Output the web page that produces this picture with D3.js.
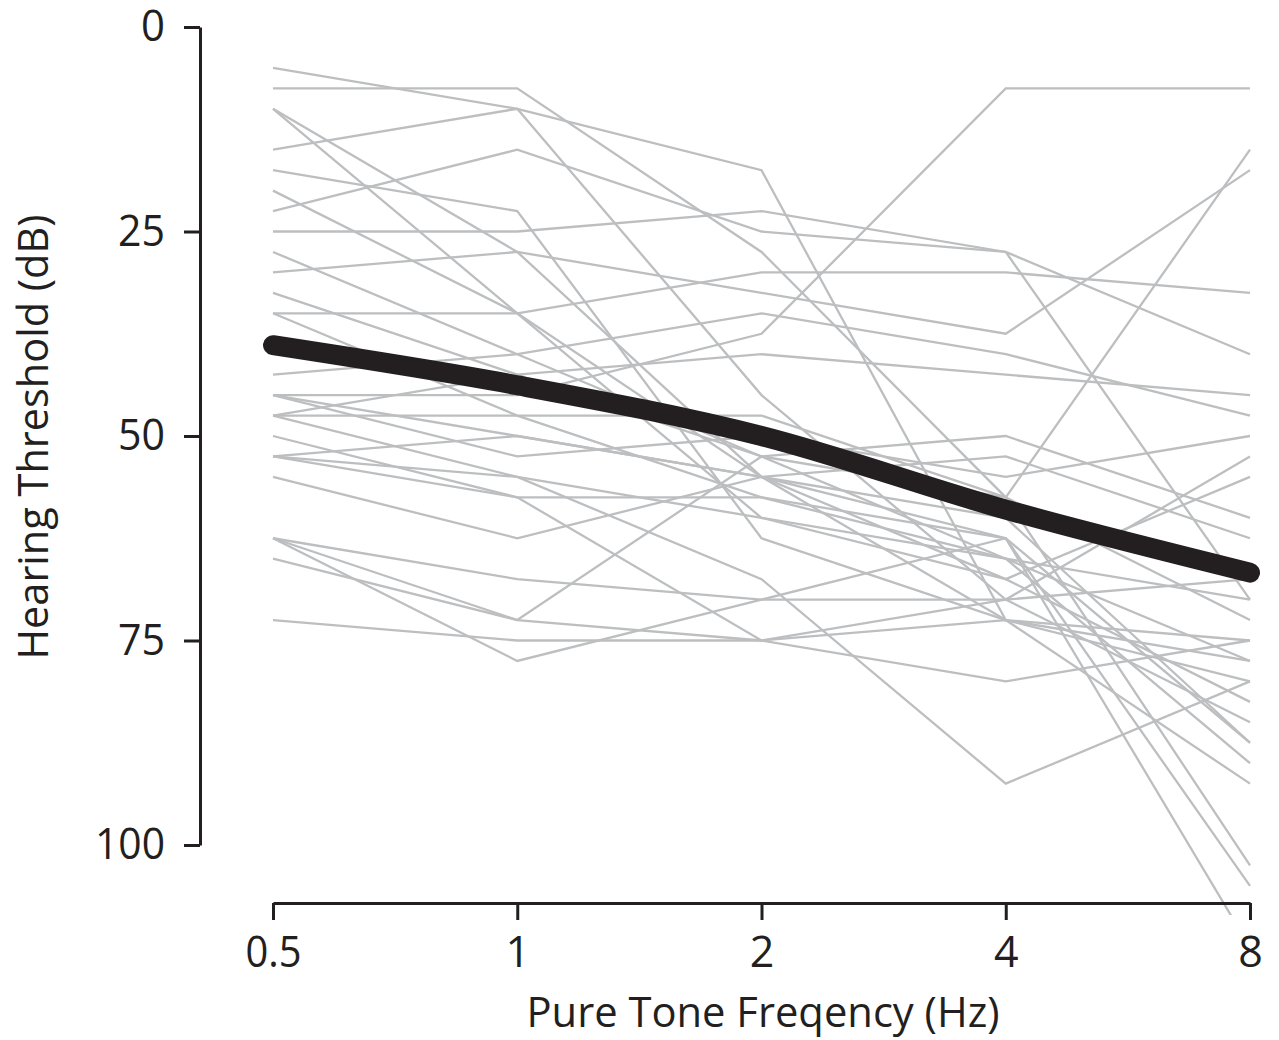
<!DOCTYPE html>
<html><head><meta charset="utf-8">
<script src="https://cdn.jsdelivr.net/npm/d3@7"></script>
<style>body{margin:0;background:#fff}svg{display:block}</style>
</head><body>
<svg id="chart" width="1279" height="1040"></svg>
<script>
// ---- data ----
const frequencies = [0.5, 1, 2, 4, 8];
const freqLabels = ["0.5", "1", "2", "4", "8"];
const yTicks = [0, 25, 50, 75, 100];
const meanThreshold = [38.9, 43.8, 50, 59, 66.7];
const subject01 = [5, 10, 17.5, 72.5, 80];
const subject02 = [7.5, 7.5, 27.5, 57.5, 102.5];
const subject03 = [10, 27.5, 55, 60, 87.5];
const subject04 = [10, 35, 60, 65, 90];
const subject05 = [15, 10, 45, 70, 85];
const subject06 = [17.5, 22.5, 62.5, 72.5, 75];
const subject07 = [20, 35, 55, 62.5, 112.5];
const subject08 = [22.5, 15, 25, 27.5, 40];
const subject09 = [25, 25, 22.5, 27.5, 70];
const subject10 = [27.5, 40, 52.5, 57.5, 72.5];
const subject11 = [30, 27.5, 32.5, 37.5, 17.5];
const subject12 = [32.5, 42.5, 40, 42.5, 45];
const subject13 = [35, 35, 30, 30, 32.5];
const subject14 = [35, 47.5, 57.5, 65, 77.5];
const subject15 = [42.5, 40, 35, 40, 47.5];
const subject16 = [45, 45, 37.5, 7.5, 7.5];
const subject17 = [45, 50, 55, 52.5, 62.5];
const subject18 = [45, 52.5, 50, 55, 50];
const subject19 = [47.5, 47.5, 47.5, 57.5, 15];
const subject20 = [47.5, 55, 60, 67.5, 82.5];
const subject21 = [47.5, 42.5, 52.5, 50, 60];
const subject22 = [50, 57.5, 57.5, 62.5, 105];
const subject23 = [52.5, 50, 55, 72.5, 92.5];
const subject24 = [52.5, 55, 67.5, 92.5, 80];
const subject25 = [52.5, 57.5, 75, 80, 75];
const subject26 = [55, 62.5, 55, 67.5, 55];
const subject27 = [62.5, 67.5, 70, 70, 52.5];
const subject28 = [62.5, 72.5, 52.5, 65, 70];
const subject29 = [62.5, 77.5, 70, 62.5, 87.5];
const subject30 = [65, 72.5, 75, 70, 67.5];
const subject31 = [72.5, 75, 75, 72.5, 77.5];
const subjects = [subject01, subject02, subject03, subject04, subject05, subject06, subject07, subject08,
  subject09, subject10, subject11, subject12, subject13, subject14, subject15, subject16, subject17,
  subject18, subject19, subject20, subject21, subject22, subject23, subject24, subject25, subject26,
  subject27, subject28, subject29, subject30, subject31];

// ---- chart ----
const svg = d3.select("#chart");
const FONT = "'Open Sans', 'Noto Sans', sans-serif";
const INK = "#231f20";

const x = d3.scaleLog().base(2).domain([0.5, 8]).range([273, 1250]);
const y = d3.scaleLinear().domain([0, 100]).range([27, 845]);

svg.append("defs").append("clipPath").attr("id", "plotclip")
  .append("rect").attr("x", 0).attr("y", 0).attr("width", 1279).attr("height", 915);

const line = d3.line().x((d, i) => x(frequencies[i])).y(d => y(d));
const plot = svg.append("g").attr("clip-path", "url(#plotclip)");

plot.selectAll("path.subject").data(subjects).join("path")
  .attr("class", "subject")
  .attr("d", line)
  .attr("fill", "none")
  .attr("stroke", "#bcbec0")
  .attr("stroke-width", 2.3)
  .attr("stroke-linejoin", "miter");

plot.append("path")
  .datum(meanThreshold)
  .attr("d", line.curve(d3.curveMonotoneX))
  .attr("fill", "none")
  .attr("stroke", INK)
  .attr("stroke-width", 20)
  .attr("stroke-linecap", "round")
  .attr("stroke-linejoin", "round");

// y axis
const yAxis = svg.append("g").attr("transform", "translate(200,0)")
  .call(d3.axisLeft(y).tickValues(yTicks).tickSize(16).tickSizeOuter(0).tickPadding(19));
// x axis
const xAxis = svg.append("g").attr("transform", "translate(0,903)")
  .call(d3.axisBottom(x).tickValues(frequencies).tickFormat((d, i) => freqLabels[i])
    .tickSize(17).tickSizeOuter(0).tickPadding(16));

[yAxis, xAxis].forEach(g => {
  g.select(".domain").attr("stroke", INK).attr("stroke-width", 3);
  g.selectAll(".tick line").attr("stroke", INK).attr("stroke-width", 3);
  g.selectAll(".tick text").attr("fill", INK).attr("font-family", FONT).attr("font-size", 43);
});
yAxis.selectAll(".tick text").each(function(d) {
  const w = {0: 24, 25: 47, 50: 47, 75: 47, 100: 70}[d];
  d3.select(this).attr("textLength", w).attr("lengthAdjust", "spacingAndGlyphs");
});
xAxis.selectAll(".tick text").filter((d, i) => i === 0)
  .attr("textLength", 56).attr("lengthAdjust", "spacingAndGlyphs");

// axis titles
svg.append("text")
  .attr("transform", "translate(48,437) rotate(-90)")
  .attr("text-anchor", "middle")
  .attr("font-family", FONT).attr("font-size", 42).attr("fill", INK)
  .attr("textLength", 445).attr("lengthAdjust", "spacingAndGlyphs")
  .text("Hearing Threshold (dB)");

svg.append("text")
  .attr("x", 763).attr("y", 1027)
  .attr("text-anchor", "middle")
  .attr("font-family", FONT).attr("font-size", 42).attr("fill", INK)
  .attr("textLength", 473).attr("lengthAdjust", "spacingAndGlyphs")
  .text("Pure Tone Freqency (Hz)");
</script>
</body></html>
